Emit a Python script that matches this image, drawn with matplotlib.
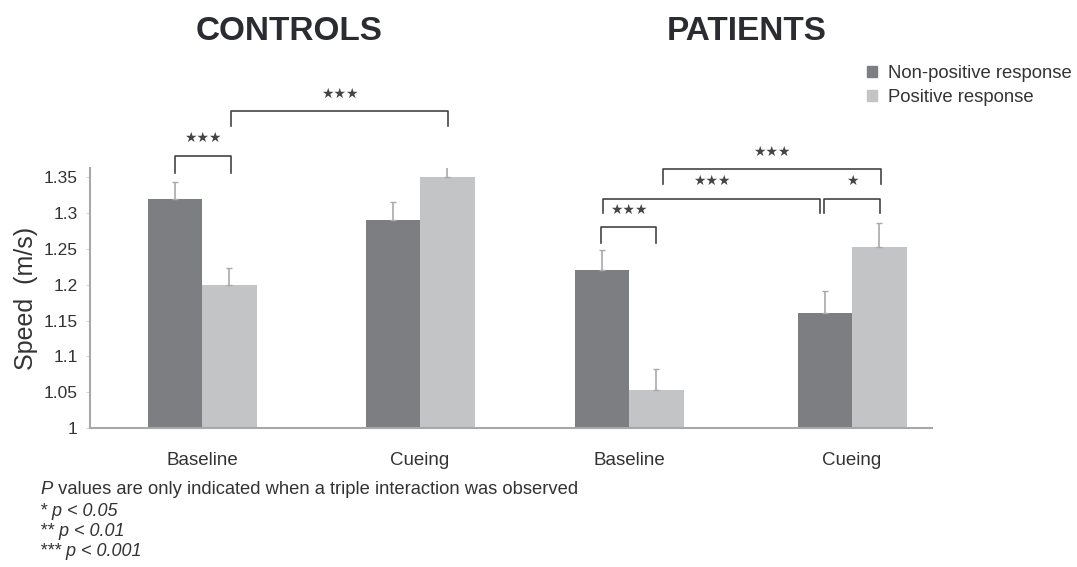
import numpy as np
import matplotlib.pyplot as plt
from matplotlib.patches import Rectangle

plt.rcParams['font.family'] = ['Liberation Sans', 'DejaVu Sans']

# data
groups = ['CONTROLS', 'PATIENTS']
conditions = ['Baseline', 'Cueing', 'Baseline', 'Cueing']
series = ['Non-positive response', 'Positive response']
non_positive = [1.32, 1.29, 1.22, 1.16]
positive = [1.20, 1.35, 1.053, 1.253]
non_positive_err = [0.023, 0.025, 0.028, 0.031]
positive_err = [0.024, 0.025, 0.029, 0.033]
yticks = [1, 1.05, 1.1, 1.15, 1.2, 1.25, 1.3, 1.35]

# significance brackets: (x left, x right, top, end, label), x in category units
brackets = [
    (-0.125, 0.132, 1.380, 1.356, '★★★'),
    (0.132, 1.128, 1.442, 1.421, '★★★'),
    (1.830, 2.083, 1.280, 1.258, '★★★'),
    (1.839, 2.834, 1.320, 1.300, '★★★'),
    (2.853, 3.110, 1.320, 1.300, '★'),
    (2.115, 3.115, 1.361, 1.341, '★★★'),
]

dark = '#7d7e82'
light = '#c3c4c6'
err_col = '#a9a9ab'
txt = '#333333'

x = np.array([0, 1, 1.959, 2.982])
w = 0.25

fig = plt.figure(figsize=(10.77, 5.67), dpi=100)
ax = fig.add_axes([0.0836, 0.2451, 0.7818, 0.4586])

ax.bar(x - w / 2, non_positive, w, bottom=0, color=dark, zorder=2)
ax.bar(x + w / 2, positive, w, bottom=0, color=light, zorder=2)
ax.errorbar(x - w / 2, non_positive, yerr=[np.zeros(4), non_positive_err],
            fmt='none', ecolor=err_col, elinewidth=1.2, capsize=2.5, zorder=3)
ax.errorbar(x + w / 2, positive, yerr=[np.zeros(4), positive_err],
            fmt='none', ecolor=err_col, elinewidth=1.2, capsize=2.5, zorder=3)

ax.set_ylim(1, 1.363)
ax.set_xlim(-0.514, 3.349)
ax.set_yticks(yticks)
ax.set_yticklabels(['%g' % t for t in yticks], fontsize=12.5, color=txt)
ax.set_xticks(x)
ax.set_xticklabels(conditions, fontsize=13.5, color=txt)
ax.tick_params(axis='x', length=0, pad=17)
ax.tick_params(axis='y', length=3, width=0.6, color='#cccccc', pad=6)
for s in ['top', 'right']:
    ax.spines[s].set_visible(False)
for s in ['left', 'bottom']:
    ax.spines[s].set_color('#a8a8a8')
    ax.spines[s].set_linewidth(1.5)
ax.set_ylabel('Speed  (m/s)', fontsize=18, color=txt, labelpad=4)

for x1, x2, top, end, lab in brackets:
    ax.plot([x1, x1, x2, x2], [end, top, top, end], color='#444444',
            lw=1.2, clip_on=False)
    ax.text((x1 + x2) / 2, top + 0.025, lab, ha='center', va='center',
            fontsize=10, color='#444444', family='DejaVu Sans', clip_on=False)

fig.text(289 / 1077, 1 - 32 / 567, groups[0], ha='center', va='center',
         fontsize=24, fontweight='bold', color='#2a2c31')
fig.text(747 / 1077, 1 - 32 / 567, groups[1], ha='center', va='center',
         fontsize=24, fontweight='bold', color='#2a2c31')

handles = [Rectangle((0, 0), 1, 1, color=dark), Rectangle((0, 0), 1, 1, color=light)]
fig.legend(handles, series, loc='upper left', bbox_to_anchor=(850 / 1077, 1 - 48 / 567),
           frameon=False, fontsize=13.3, handlelength=0.55, handleheight=0.55,
           handletextpad=0.6, labelspacing=0.4, labelcolor=txt)

fig.text(40 / 1077, 1 - 490 / 567, 'P', ha='left', va='center', fontsize=13.2,
         style='italic', color=txt)
fig.text(53 / 1077, 1 - 490 / 567, ' values are only indicated when a triple interaction was observed',
         ha='left', va='center', fontsize=13.2, color=txt)
notes = ['* p < 0.05', '** p < 0.01', '*** p < 0.001']
for i, n in enumerate(notes):
    fig.text(40 / 1077, 1 - (511 + 20 * i) / 567, n, ha='left', va='center',
             fontsize=13, style='italic', color=txt)

fig.savefig('out.png', dpi=100)
